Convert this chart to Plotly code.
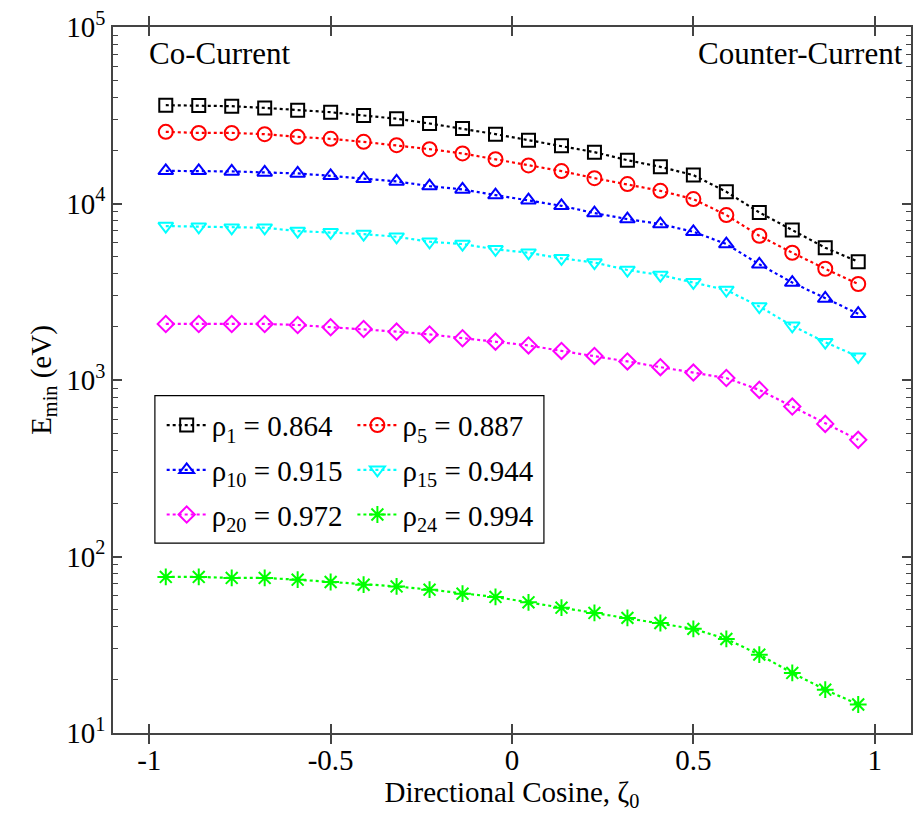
import plotly.graph_objects as go

zeta0 = [-0.9545, -0.8636, -0.7727, -0.6818, -0.5909, -0.5, -0.4091, -0.3182,
         -0.2273, -0.1364, -0.0455, 0.0455, 0.1364, 0.2273, 0.3182, 0.4091,
         0.5, 0.5909, 0.6818, 0.7727, 0.8636, 0.9545]

e_rho1 = [36060, 35900, 35590, 34800, 33780, 32910, 31520, 30230, 28400, 26610, 24710,
          22850, 21210, 19540, 17600, 16130, 14480, 11650, 8900, 7070, 5615, 4677]
e_rho5 = [25460, 25120, 25120, 24710, 23850, 23240, 22350, 21410, 20320, 19210, 17840,
          16430, 15260, 13920, 12880, 11800, 10590, 8600, 6565, 5260, 4270, 3500]
e_rho10 = [15310, 15310, 15200, 15000, 14800, 14350, 13800, 13340, 12550, 12020, 11160,
           10450, 9705, 8825, 8160, 7645, 6915, 5893, 4523, 3566, 2896, 2373]
e_rho15 = [7450, 7383, 7287, 7287, 6980, 6863, 6712, 6480, 6071, 5893, 5500,
           5260, 4890, 4630, 4200, 3933, 3576, 3235, 2609, 2029, 1637, 1356]
e_rho20 = [2077, 2077, 2077, 2077, 2050, 1990, 1946, 1879, 1812, 1724, 1649,
           1570, 1461, 1369, 1274, 1182, 1102, 1026, 879, 707, 564, 458]
e_rho24 = [76.6, 76.6, 75.6, 75.6, 73.9, 71.7, 69.2, 67.7, 64.9, 61.6, 59.0,
           55.0, 51.3, 47.9, 44.9, 42.0, 38.9, 34.1, 27.8, 21.9, 17.6, 14.5]

series_names = ["ρ<sub>1</sub> = 0.864", "ρ<sub>5</sub> = 0.887", "ρ<sub>10</sub> = 0.915",
                "ρ<sub>15</sub> = 0.944", "ρ<sub>20</sub> = 0.972", "ρ<sub>24</sub> = 0.994"]
series_values = [e_rho1, e_rho5, e_rho10, e_rho15, e_rho20, e_rho24]
series_colors = ["#000000", "#ff0000", "#0000ff", "#00ffff", "#ff00ff", "#00ff00"]
series_symbols = ["square-open", "circle-open", "triangle-up-open", "triangle-down-open",
                  "diamond-open", "asterisk-open"]
series_sizes = [13, 14, 13, 13, 12.5, 14]
series_legend = ["legend", "legend2", "legend", "legend2", "legend", "legend2"]

x_tickvals = [-1, -0.5, 0, 0.5, 1]
x_ticktext = ["-1", "-0.5", "0", "0.5", "1"]
y_tickvals = [10, 100, 1000, 10000, 100000]
y_ticktext = ["10<sup>1</sup>", "10<sup>2</sup>", "10<sup>3</sup>", "10<sup>4</sup>", "10<sup>5</sup>"]
y_minorvals = [m * d for d in [10, 100, 1000, 10000] for m in range(2, 10)]

FONT = "Liberation Serif"
FS = 29

fig = go.Figure()
for i, (name, vals, col, sym, sz, lg) in enumerate(zip(series_names, series_values, series_colors,
                                                      series_symbols, series_sizes, series_legend)):
    fig.add_trace(go.Scatter(
        x=zeta0, y=vals, name=name, mode="lines+markers",
        line=dict(color=col, width=2.2, dash="dot"),
        marker=dict(symbol=sym, size=sz, color=col, line=dict(color=col, width=2)),
        legend=lg, legendgroup="g%d" % i,
    ))

# invisible trace to carry the minor-tick axis
fig.add_trace(go.Scatter(x=[None], y=[None], yaxis="y2", showlegend=False, hoverinfo="skip"))

axis_col = "#444444"
fig.update_layout(
    width=917, height=813,
    margin=dict(l=113, r=4, t=27, b=80),
    paper_bgcolor="white", plot_bgcolor="white",
    font=dict(family=FONT, size=FS, color="black"),
    xaxis=dict(
        range=[-1.1, 1.1], tickvals=x_tickvals, ticktext=x_ticktext,
        ticks="inside", ticklen=9, tickwidth=1.5, tickcolor=axis_col,
        showline=True, linecolor=axis_col, linewidth=1.5, mirror="allticks",
        showgrid=False, zeroline=False,
        tickfont=dict(family=FONT, size=FS),
        title=dict(text="Directional Cosine, ζ<sub>0</sub>", font=dict(family=FONT, size=FS), standoff=0),
    ),
    yaxis=dict(
        type="log", range=[1, 5], tickvals=y_tickvals, ticktext=y_ticktext,
        ticks="inside", ticklen=9, tickwidth=1.5, tickcolor=axis_col,
        showline=True, linecolor=axis_col, linewidth=1.5, mirror="allticks",
        showgrid=False, zeroline=False,
        tickfont=dict(family=FONT, size=FS),
        title=dict(text="E<sub>min</sub> (eV)", font=dict(family=FONT, size=FS), standoff=6),
    ),
    yaxis2=dict(
        type="log", range=[1, 5], overlaying="y", side="left", anchor="x",
        tickvals=y_minorvals, showticklabels=False,
        ticks="inside", ticklen=5, tickwidth=1.2, tickcolor=axis_col,
        showline=False, mirror="ticks", showgrid=False, zeroline=False,
    ),
    legend=dict(
        x=0.061, y=0.472, xanchor="left", yanchor="top",
        bgcolor="rgba(0,0,0,0)", borderwidth=0, itemwidth=40,
        font=dict(family=FONT, size=FS), tracegroupgap=4,
    ),
    legend2=dict(
        x=0.3, y=0.472, xanchor="left", yanchor="top",
        bgcolor="rgba(0,0,0,0)", borderwidth=0, itemwidth=40,
        font=dict(family=FONT, size=FS), tracegroupgap=4,
    ),
    showlegend=True,
    shapes=[dict(type="rect", xref="paper", yref="paper",
                 x0=0.0525, x1=0.54, y0=0.269, y1=0.478,
                 line=dict(color="black", width=1.2), fillcolor="white", layer="below")],
    annotations=[
        dict(text="Co-Current", xref="paper", yref="paper", x=0.043, y=0.962,
             xanchor="left", yanchor="middle", showarrow=False,
             font=dict(family=FONT, size=31)),
        dict(text="Counter-Current", xref="paper", yref="paper", x=0.993, y=0.962,
             xanchor="right", yanchor="middle", showarrow=False,
             font=dict(family=FONT, size=31)),
    ],
)

fig.write_html("out.html")
